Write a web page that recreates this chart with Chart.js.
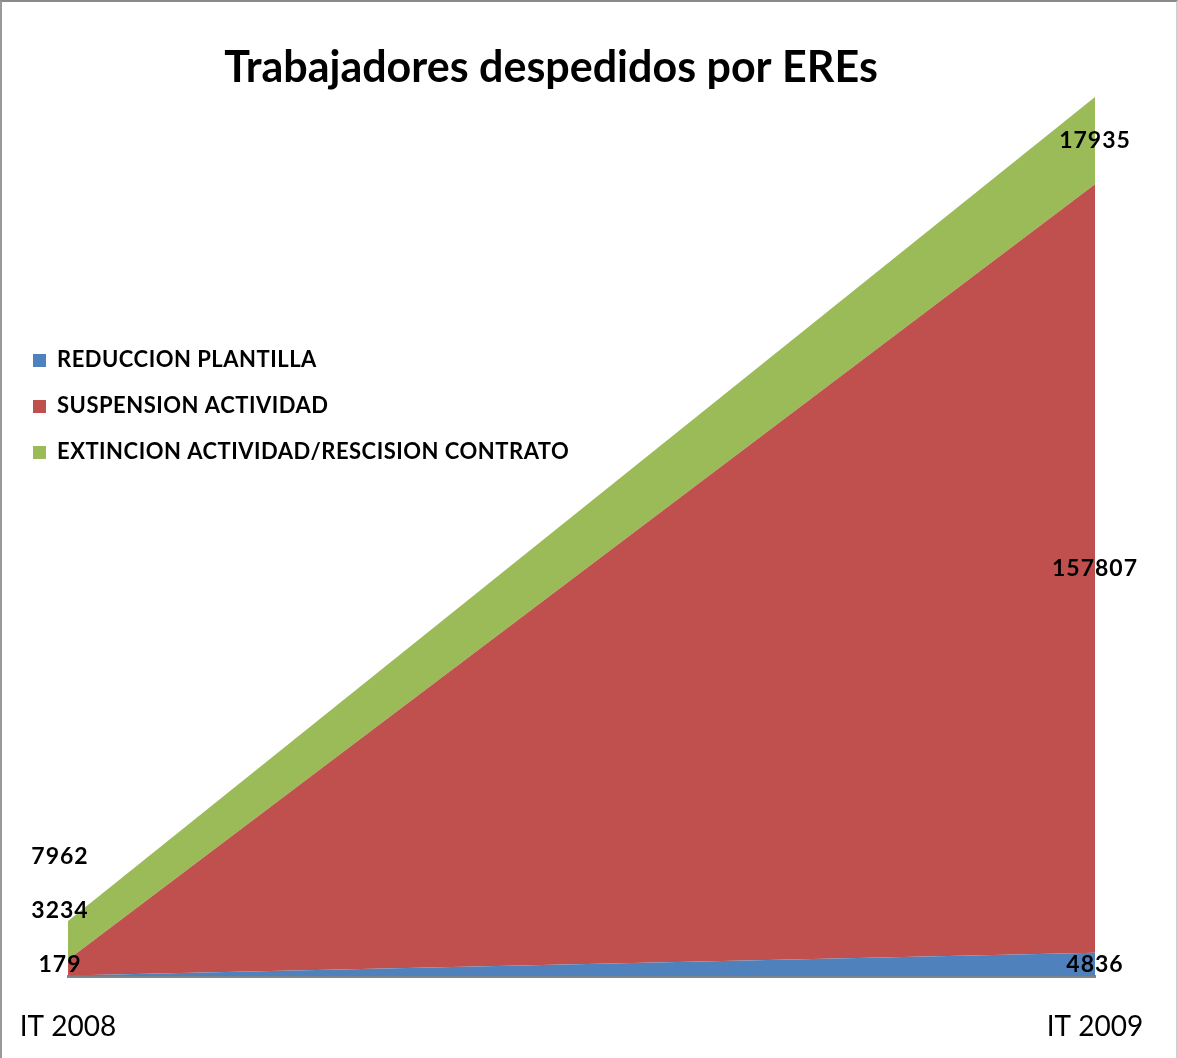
<!DOCTYPE html>
<html>
<head>
<meta charset="utf-8">
<script src="https://cdn.jsdelivr.net/npm/chart.js@4.4.0/dist/chart.umd.min.js"></script>
<style>
  html, body { margin: 0; padding: 0; background: #fff; }
  #wrap { position: relative; width: 1178px; height: 1058px; box-sizing: border-box;
          border-top: 2px solid #8a8a8a; border-left: 2px solid #9a9a9a; border-right: 2px solid #d0d0d0; }
  canvas { display: block; }
</style>
</head>
<body>
<div id="wrap"><canvas id="ereChart" width="1174" height="1056"></canvas></div>
<script>
// datos
const categorias = ['IT 2008', 'IT 2009'];
const reduccion = [179, 4836];
const suspension = [3234, 157807];
const extincion = [7962, 17935];
const series = ['REDUCCION PLANTILLA', 'SUSPENSION ACTIVIDAD', 'EXTINCION ACTIVIDAD/RESCISION CONTRATO'];
const colores = ['#4F81BD', '#C0504D', '#9BBB59'];

const totales = categorias.map((c, i) => reduccion[i] + suspension[i] + extincion[i]);
const FONT = 'Lato, "Open Sans", sans-serif';

// titulo, leyenda y etiquetas dibujadas a mano (estilo Excel)
const extras = {
    id: 'extras',
    afterDatasetsDraw(chart) {
        const c = chart.ctx;
        const y = chart.scales.y;
        c.save();
        // titulo
        c.fillStyle = '#000';
        c.font = 'bold 43px ' + FONT;
        c.textAlign = 'center';
        c.textBaseline = 'middle';
        c.fillText('Trabajadores despedidos por EREs', 549, 66);

        // leyenda
        c.font = 'bold 22px ' + FONT;
        c.letterSpacing = '0.5px';
        c.textAlign = 'left';
        series.forEach((s, i) => {
            const ly = 358 + i * 46;
            c.fillStyle = colores[i];
            c.fillRect(31, ly - 6, 13, 13);
            c.fillStyle = '#000';
            c.fillText(s, 55, ly);
        });

        // etiquetas de datos
        c.font = 'bold 23px ' + FONT;
        c.letterSpacing = '1px';
        c.textAlign = 'center';
        chart.data.datasets.forEach((ds, di) => {
            const meta = chart.getDatasetMeta(di);
            meta.data.forEach((pt, i) => {
                let lx, ly;
                if (i === 0) {
                    lx = pt.x - 8;
                    ly = y.getPixelForValue(0) - 12 - di * 54;
                } else {
                    const base = chart.data.datasets.slice(0, di).reduce((a, d) => a + d.data[i], 0);
                    lx = pt.x;
                    ly = (y.getPixelForValue(base) + pt.y) / 2;
                }
                c.fillStyle = '#000';
                c.fillText(String(ds.data[i]), lx, ly);
            });
        });
        c.restore();
    }
};

const ctx = document.getElementById('ereChart').getContext('2d');
const chart = new Chart(ctx, {
    type: 'line',
    data: {
        labels: categorias,
        datasets: [
            { label: series[0], data: reduccion, backgroundColor: colores[0], fill: 'origin' },
            { label: series[1], data: suspension, backgroundColor: colores[1], fill: '-1' },
            { label: series[2], data: extincion, backgroundColor: colores[2], fill: '-1' }
        ].map(d => Object.assign(d, { borderWidth: 0, pointRadius: 0, tension: 0 }))
    },
    options: {
        responsive: false,
        animation: false,
        layout: { padding: { left: 66, right: 81, top: 95, bottom: -20 } },
        plugins: {
            legend: { display: false },
            tooltip: { enabled: false }
        },
        scales: {
            x: {
                offset: false,
                grid: { display: false, drawTicks: false },
                border: { display: true, color: '#868686', width: 3 },
                ticks: { color: '#000', font: { family: FONT, size: 28 }, padding: 34, maxRotation: 0 },
                afterFit(scale) {
                    // que las etiquetas no empujen el area del grafico
                    scale.paddingLeft = 0;
                    scale.paddingRight = 0;
                }
            },
            y: {
                display: false,
                stacked: true,
                min: 0,
                max: Math.max(...totales)
            }
        }
    },
    plugins: [extras]
});
</script>
</body>
</html>
